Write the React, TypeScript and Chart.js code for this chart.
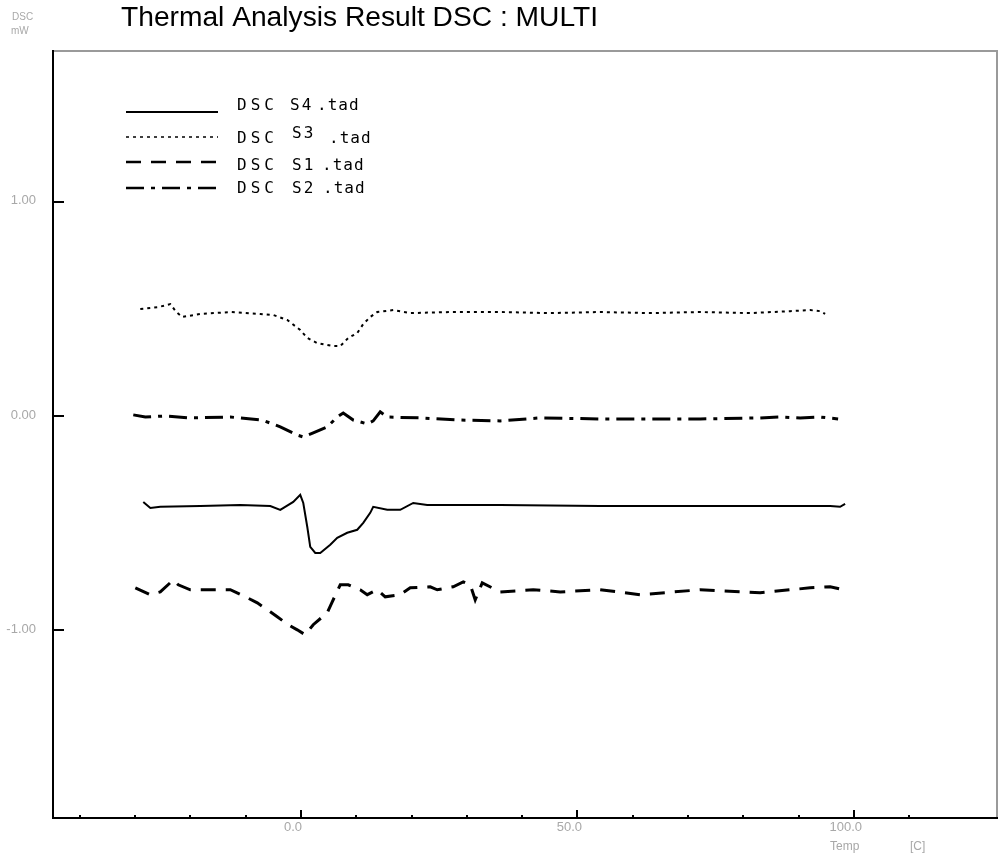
import React, { useEffect, useRef } from "react";
import { Chart, registerables } from "chart.js";

Chart.register(...registerables);

// ---- Data (Temp in °C, DSC in mW) ----
const s4Temp = [-28.52, -27.24, -25.44, -18.21, -10.98, -5.55, -3.74, -1.39, -0.13, 0.42, 1.14, 1.68, 2.59, 3.49, 5.3, 6.56, 8.37, 10.18, 11.27, 12.53, 13.07, 15.61, 17.96, 20.31, 22.84, 36.04, 54.12, 72.21, 95.72, 97.52, 98.43];
const s4Dsc = [-0.401, -0.429, -0.424, -0.42, -0.415, -0.42, -0.438, -0.401, -0.368, -0.406, -0.517, -0.611, -0.639, -0.639, -0.601, -0.569, -0.545, -0.531, -0.499, -0.452, -0.424, -0.438, -0.438, -0.406, -0.415, -0.415, -0.42, -0.42, -0.42, -0.424, -0.41];

const s3Temp = [-29.06, -25.8, -23.63, -22.55, -21.46, -18.21, -12.78, -7.36, -5.01, -2.48, -0.13, 1.14, 2.95, 5.84, 7.11, 8.55, 10.18, 11.27, 12.53, 13.8, 16.69, 19.77, 27.0, 36.04, 45.08, 54.12, 63.17, 72.21, 81.25, 88.48, 92.1, 93.91, 94.81];
const s3Dsc = [0.499, 0.508, 0.522, 0.485, 0.462, 0.476, 0.485, 0.476, 0.471, 0.448, 0.401, 0.364, 0.34, 0.326, 0.326, 0.364, 0.387, 0.429, 0.462, 0.485, 0.494, 0.48, 0.485, 0.485, 0.48, 0.485, 0.48, 0.485, 0.48, 0.489, 0.494, 0.489, 0.476];

const s1Temp = [-29.96, -27.25, -25.44, -23.09, -22.19, -20.02, -12.78, -9.71, -7.9, -5.55, -4.29, -2.3, -0.67, 0.78, 2.22, 4.76, 5.66, 7.11, 8.55, 10.72, 11.99, 13.8, 15.24, 17.96, 19.77, 23.38, 24.65, 27.54, 29.35, 30.62, 31.52, 32.79, 36.04, 42.01, 46.89, 54.12, 61.35, 72.21, 83.06, 88.48, 92.1, 95.72, 98.07];
const s1Dsc = [-0.802, -0.834, -0.821, -0.765, -0.788, -0.811, -0.811, -0.848, -0.872, -0.914, -0.937, -0.974, -0.998, -1.021, -0.974, -0.918, -0.867, -0.788, -0.788, -0.811, -0.834, -0.811, -0.844, -0.834, -0.802, -0.797, -0.811, -0.797, -0.774, -0.788, -0.858, -0.779, -0.821, -0.811, -0.821, -0.811, -0.834, -0.811, -0.825, -0.811, -0.802, -0.797, -0.811];

const s2Temp = [-30.33, -28.15, -24.53, -20.02, -12.78, -7.0, -3.74, -0.67, 0.42, 2.22, 4.76, 6.56, 7.65, 9.46, 11.99, 13.07, 14.34, 15.61, 21.57, 28.81, 36.04, 43.27, 54.12, 72.21, 83.06, 86.68, 90.29, 93.91, 97.16];
const s2Dsc = [0.005, -0.005, 0.0, -0.009, -0.005, -0.019, -0.051, -0.089, -0.098, -0.079, -0.051, -0.005, 0.014, -0.019, -0.037, -0.023, 0.019, -0.005, -0.009, -0.019, -0.023, -0.009, -0.014, -0.014, -0.009, -0.005, -0.009, -0.005, -0.014];

const seriesNames = ["S4", "S3", "S1", "S2"];
const titleText = "Thermal Analysis Result DSC : MULTI";

const yTicks = [1, 0, -1];
const yTickLabels = ["1.00", "0.00", "-1.00"];
const xMajorTicks = [0, 50, 100];
const xMajorLabels = ["0.0", "50.0", "100.0"];
const xMinorTicks = [-40, -30, -20, -10, 10, 20, 30, 40, 60, 70, 80, 90, 110];

const xMin = -44.85;
const xMax = 125.9;
const yMin = -1.876;
const yMax = 1.703;

const toPts = (xs: number[], ys: number[]) => xs.map((x, i) => ({ x, y: ys[i] }));

const dashes: number[][] = [[], [3, 4], [15, 10], [18, 7, 4, 7]];
const widths = [2, 2, 3, 3];

const decorPlugin = {
  id: "decor",
  afterDraw(chart: any) {
    const ctx = chart.ctx as CanvasRenderingContext2D;
    const a = chart.chartArea;
    const xs = chart.scales.x;
    const ys = chart.scales.y;
    ctx.save();

    // frame: top & right gray, left & bottom black
    ctx.lineCap = "butt";
    ctx.strokeStyle = "#9a9a9a";
    ctx.lineWidth = 2;
    ctx.beginPath();
    ctx.moveTo(a.left, a.top);
    ctx.lineTo(a.right, a.top);
    ctx.lineTo(a.right, a.bottom);
    ctx.stroke();
    ctx.strokeStyle = "#000";
    ctx.beginPath();
    ctx.moveTo(a.left, a.top - 1);
    ctx.lineTo(a.left, a.bottom);
    ctx.lineTo(a.right + 1, a.bottom);
    ctx.stroke();

    // y ticks
    ctx.lineWidth = 2;
    yTicks.forEach((v) => {
      const py = Math.round(ys.getPixelForValue(v));
      ctx.beginPath();
      ctx.moveTo(a.left, py);
      ctx.lineTo(a.left + 11, py);
      ctx.stroke();
    });
    // x ticks
    xMajorTicks.forEach((v) => {
      const px = Math.round(xs.getPixelForValue(v));
      ctx.beginPath();
      ctx.moveTo(px, a.bottom);
      ctx.lineTo(px, a.bottom - 8);
      ctx.stroke();
    });
    xMinorTicks.forEach((v) => {
      const px = Math.round(xs.getPixelForValue(v));
      ctx.beginPath();
      ctx.moveTo(px, a.bottom);
      ctx.lineTo(px, a.bottom - 3);
      ctx.stroke();
    });

    // tick labels
    ctx.fillStyle = "#a8a8a8";
    ctx.font = "13px 'Liberation Sans', Arial, sans-serif";
    ctx.textAlign = "right";
    ctx.textBaseline = "middle";
    yTicks.forEach((v, i) => {
      const py = ys.getPixelForValue(v);
      ctx.fillText(yTickLabels[i], 36, py - 1);
    });
    ctx.textAlign = "center";
    xMajorTicks.forEach((v, i) => {
      const px = xs.getPixelForValue(v);
      ctx.fillText(xMajorLabels[i], px - 8, a.bottom + 9);
    });
    ctx.font = "12px 'Liberation Sans', Arial, sans-serif";
    ctx.textAlign = "left";
    ctx.fillText("Temp", 830, 847);
    ctx.fillText("[C]", 910, 847);
    ctx.font = "10px 'Liberation Sans', Arial, sans-serif";
    ctx.fillText("DSC", 12, 17);
    ctx.fillText("mW", 11, 31);

    // title
    ctx.fillStyle = "#000";
    ctx.font = "27px 'Liberation Sans', Arial, sans-serif";
    ctx.textBaseline = "alphabetic";
    const tw = ctx.measureText(titleText).width;
    const target = 477;
    ctx.save();
    ctx.translate(121, 26);
    ctx.scale(target / tw, 1);
    ctx.fillText(titleText, 0, 0);
    ctx.restore();

    // legend
    const rowsY = [112, 137, 162, 188];
    const textY = [106, 139, 166, 189];
    const sxArr = [290, 292, 292, 292];
    const sRaise = [0, -5, 0, 0];
    const tadX = [317, 329, 322, 323];
    rowsY.forEach((ly, i) => {
      ctx.strokeStyle = "#000";
      ctx.lineWidth = i === 0 ? 2 : widths[i] - 0.5;
      ctx.setLineDash(dashes[i]);
      ctx.beginPath();
      ctx.moveTo(126, ly);
      ctx.lineTo(218, ly);
      ctx.stroke();
      ctx.setLineDash([]);
      ctx.fillStyle = "#000";
      ctx.font = "16px 'DejaVu Sans Mono', monospace";
      ctx.textBaseline = "middle";
      ctx.textAlign = "left";
      (ctx as any).letterSpacing = "4px";
      ctx.fillText("DSC", 237, textY[i]);
      (ctx as any).letterSpacing = "2px";
      ctx.fillText(seriesNames[i], sxArr[i], textY[i] + sRaise[i]);
      (ctx as any).letterSpacing = "1px";
      ctx.fillText(".tad", tadX[i], textY[i]);
      (ctx as any).letterSpacing = "0px";
    });

    ctx.restore();
  },
};

export default function App() {
  const ref = useRef<HTMLCanvasElement>(null);
  useEffect(() => {
    const canvas = ref.current!;
    const series = [
      toPts(s4Temp, s4Dsc),
      toPts(s3Temp, s3Dsc),
      toPts(s1Temp, s1Dsc),
      toPts(s2Temp, s2Dsc),
    ];
    const chart = new Chart(canvas, {
      type: "line",
      data: {
        datasets: series.map((d, i) => ({
          label: "DSC " + seriesNames[i] + " .tad",
          data: d,
          borderColor: "#000",
          borderWidth: widths[i],
          borderDash: dashes[i],
          pointRadius: 0,
          tension: 0,
          fill: false,
        })),
      },
      options: {
        responsive: false,
        animation: false,
        devicePixelRatio: 1,
        layout: { padding: { left: 53, right: 3, top: 51, bottom: 37 } },
        plugins: { legend: { display: false }, title: { display: false }, tooltip: { enabled: false } },
        scales: {
          x: { type: "linear", min: xMin, max: xMax, display: false },
          y: { type: "linear", min: yMin, max: yMax, display: false },
        },
      },
      plugins: [decorPlugin],
    } as any);
    return () => chart.destroy();
  }, []);
  return (
    <div style={{ position: "fixed", left: 0, top: 0, width: 1000, height: 855, background: "#fff" }}>
      <canvas ref={ref} width={1000} height={855} style={{ width: 1000, height: 855, display: "block" }} />
    </div>
  );
}
